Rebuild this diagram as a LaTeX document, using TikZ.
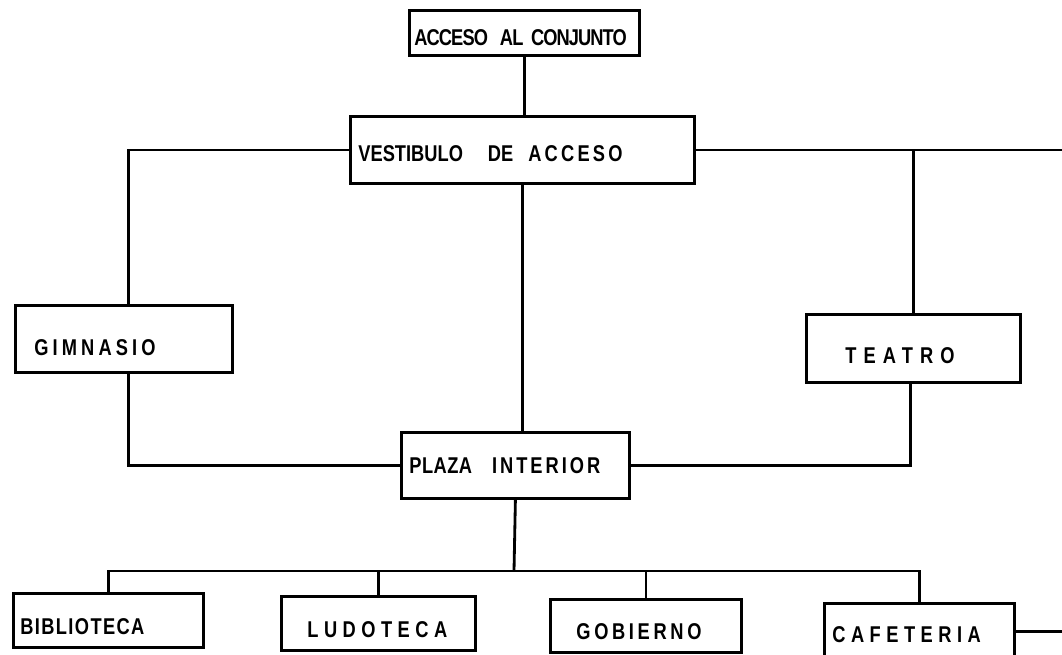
\documentclass[tikz,border=0pt]{standalone}
\usepackage{fontspec}
\newfontfamily\rotulo{Liberation Sans}[FakeStretch=0.8]
\newcommand\espacio[2]{{\addfontfeature{LetterSpace=#1}#2}}
\tikzset{
  caja/.style n args={4}{draw, line width=1.6pt, anchor=north west, inner ysep=0pt,
    minimum width=#1*0.02cm, minimum height=#2*0.02cm,
    inner xsep=#3*0.02cm, text width=(#1-2*#3)*0.02cm, align=left,
    text height=#4, text depth=0pt,
    font=\rotulo\bfseries\fontsize{13}{15}\selectfont},
  enlace/.style={line width=1.6pt},
}
\begin{document}
\begin{tikzpicture}[x=0.02cm, y=-0.02cm]
\useasboundingbox (0,0) rectangle (1062,654);
\clip (0,0) rectangle (1062,654);
\node[caja={230}{45}{5}{14.4pt}] (acc) at (408,9) {\espacio{-4}{ACCESO\hspace{0.24cm}AL CONJUNTO}};
\node[caja={344}{67}{8}{13.3pt}] (ves) at (349,115) {VESTIBULO\hspace{0.5cm}DE\hspace{0.3cm}\espacio{14}{ACCESO}};
\node[caja={217}{67}{19}{19pt}] (gim) at (14,304) {\espacio{18}{GIMNASIO}};
\node[caja={214}{68}{39}{17.3pt}] (tea) at (805,313) {\espacio{31}{TEATRO}};
\node[caja={228}{66}{8}{9.3pt}] (pla) at (400,431) {\espacio{2}{PLAZA}\hspace{0.4cm}\espacio{13}{INTERIOR}};
\node[caja={190}{54}{7}{16.1pt}] (bib) at (12,592) {\espacio{6}{BIBLIOTECA}};
\node[caja={194}{54}{26}{16.1pt}] (lud) at (280,595) {\espacio{24}{LUDOTECA}};
\node[caja={191}{53}{26}{15.6pt}] (gob) at (549,598) {\espacio{16}{GOBIERNO}};
\node[caja={190}{56}{8}{12.7pt}] (caf) at (823,602) {\espacio{24}{CAFETERIA}};
\coordinate (borde1) at (1062,150);
\coordinate (borde2) at (1062,631);
\coordinate (bus) at (514,571);
\draw[enlace] (acc.south) -- (acc.south |- ves.north);
\draw[enlace] (ves.west) -| ([xshift=0.09cm]gim.north);
\draw[enlace] (ves.south) -- (ves.south |- pla.north);
\draw[enlace] (ves.east) -- (ves.east -| borde1);
\draw[enlace] (tea.north) -- (tea.north |- ves.east);
\draw[enlace] ([xshift=0.09cm]gim.south) |- (pla.west);
\draw[enlace] ([xshift=-0.06cm]tea.south) |- (pla.east);
\draw[enlace] (pla.south) -- (bus);
\draw[enlace] (bib.north) |- (bus) -| (caf.north);
\draw[enlace] (lud.north) -- (lud.north |- bus);
\draw[enlace] (gob.north) -- (gob.north |- bus);
\draw[enlace] (caf.east) -- (caf.east -| borde2);
\end{tikzpicture}
\end{document}
